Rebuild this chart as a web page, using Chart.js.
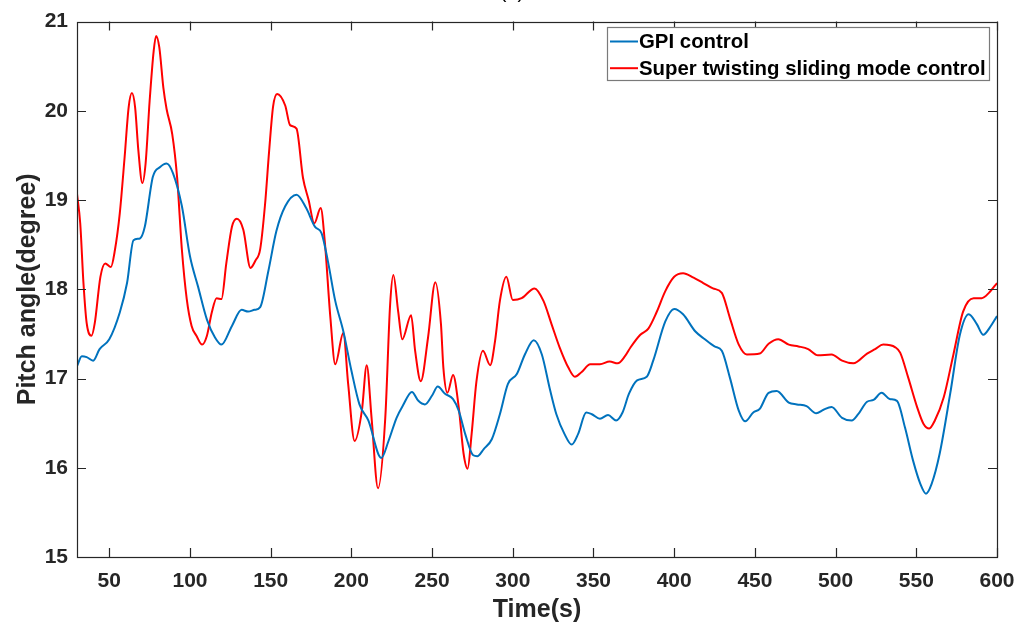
<!DOCTYPE html>
<html>
<head>
<meta charset="utf-8">
<script src="https://cdn.jsdelivr.net/npm/chart.js@4/dist/chart.umd.min.js"></script>
<style>
  html, body { margin: 0; padding: 0; background: #ffffff; }
  #wrap { width: 1030px; height: 630px; }
</style>
</head>
<body>
<div id="wrap"><canvas id="c" width="1030" height="630"></canvas></div>
<script>
// ---- data ----
const gpiTime = [30,33,36,40,44,50,56.5,61,65,69,72,77,81.5,85.5,89.5,95,100,105,110.5,115.5,119.5,126,132,136,140,143.5,148.5,153.5,159,166,172,177.5,181.5,185.5,190,195,200,205,210.5,218.5,223,228,232,237.5,241.5,245.5,250,253.5,258,263,266.5,270.5,275.5,278,282,287,292,297,302.5,307.5,313,318,323,327,332,336.5,340.5,345.5,349,354,359,364,368,372,377,383,387,394.5,400,405.5,413,419,425,429.5,434.5,440,444,449,453,458.5,463.5,471,476,482,488,492.5,497.5,504,510,514,519.5,523.5,528.5,533.5,538,543,548,552.5,556,559.5,564.5,571,577,582.5,587.5,591.5,595.5,600];
const gpiPitch = [17.14,17.25,17.24,17.20,17.33,17.44,17.74,18.07,18.55,18.57,18.70,19.26,19.37,19.41,19.30,18.93,18.37,18.03,17.66,17.46,17.38,17.59,17.77,17.75,17.77,17.80,18.20,18.65,18.93,19.06,18.91,18.70,18.63,18.31,17.87,17.53,17.09,16.71,16.53,16.11,16.30,16.56,16.70,16.85,16.75,16.71,16.81,16.91,16.83,16.77,16.64,16.38,16.14,16.13,16.21,16.32,16.60,16.94,17.05,17.27,17.43,17.27,16.88,16.60,16.38,16.26,16.38,16.62,16.60,16.55,16.59,16.53,16.62,16.83,16.98,17.02,17.20,17.64,17.78,17.72,17.53,17.44,17.36,17.31,17.01,16.64,16.52,16.62,16.66,16.84,16.86,16.73,16.71,16.69,16.61,16.65,16.68,16.56,16.53,16.60,16.74,16.76,16.84,16.77,16.75,16.45,16.08,15.82,15.71,15.82,16.16,16.83,17.49,17.72,17.61,17.49,17.57,17.70];

const stsmcTime = [30,32,34,36,39,41,44.5,47.5,51,53.5,56.5,59.5,62,64,66,68,70.5,72.5,75,77.5,79,81,83.5,85.5,89,92,95,98,101,104,107.5,110.5,113.5,116.5,119.5,122.5,126,129,133,137.5,140.5,143.5,146.5,149,151.5,154,159,162,166,170,173.5,177,181,183.5,187,190,195,198,202,206.5,209.5,212.5,216.5,221,224,226,229,231.5,237,239.5,243,247.5,252,255.5,257,259.5,263,266.5,269.5,272,274.5,277.5,281.5,286,289,292,296,300,305.5,313.5,319,324,329,334.5,338.5,342.5,348,354,360,365,369.5,373,379,384,389,394.5,400,405.5,412,418,424,429.5,434.5,440,445,453,458.5,464.5,471,477,483,489,497.5,504,511,519.5,524.5,529.5,537,540,545,550.5,554.5,558,561.5,567,573,579,585.5,590.5,595,600];
const stsmcPitch = [19.07,18.74,18.07,17.62,17.48,17.62,18.14,18.29,18.25,18.44,18.85,19.48,20.04,20.20,20.04,19.56,19.19,19.41,20.11,20.67,20.84,20.71,20.26,20.02,19.74,19.26,18.44,17.89,17.59,17.48,17.38,17.48,17.74,17.90,17.89,18.29,18.70,18.79,18.67,18.24,18.32,18.45,18.95,19.54,20.05,20.19,20.06,19.84,19.80,19.25,19.00,18.74,18.91,18.54,17.68,17.16,17.51,16.94,16.30,16.64,17.15,16.56,15.77,16.56,17.83,18.16,17.75,17.44,17.71,17.31,16.97,17.46,18.08,17.61,17.12,16.84,17.04,16.68,16.16,15.99,16.38,16.97,17.31,17.15,17.42,17.87,18.14,17.88,17.90,18.01,17.87,17.61,17.35,17.12,17.02,17.07,17.16,17.16,17.19,17.17,17.25,17.35,17.49,17.56,17.74,17.98,18.14,18.18,18.13,18.07,18.01,17.96,17.68,17.38,17.27,17.28,17.39,17.44,17.38,17.36,17.33,17.26,17.27,17.20,17.17,17.28,17.33,17.38,17.35,17.29,17.01,16.68,16.49,16.44,16.53,16.79,17.27,17.75,17.90,17.90,17.96,18.07];

const xTickValues = [50,100,150,200,250,300,350,400,450,500,550,600];
const yTickValues = [15,16,17,18,19,20,21];
const seriesLabels = ['GPI control', 'Super twisting sliding mode control'];
const chartTitle = '(a)';
const xAxisTitle = 'Time(s)';
const yAxisTitle = 'Pitch angle(degree)';

// ---- chart ----
const FONT = '"Liberation Sans", Arial, Helvetica, sans-serif';
const AXIS_COLOR = '#262626';

function toXY(xs, ys) { return xs.map((x, i) => ({ x: x, y: ys[i] })); }

const framePlugin = {
  id: 'frameTicksLegend',
  afterDraw(chart) {
    const { ctx, chartArea: a, scales } = chart;
    const xs = scales.x, ys = scales.y;
    ctx.save();
    // frame
    ctx.strokeStyle = AXIS_COLOR;
    ctx.lineWidth = 1.2;
    ctx.strokeRect(Math.round(a.left) + 0.5, Math.round(a.top) + 0.5,
                   Math.round(a.right - a.left), Math.round(a.bottom - a.top));
    // inward ticks
    const tl = 9;
    ctx.beginPath();
    xTickValues.forEach(v => {
      const px = Math.round(xs.getPixelForValue(v)) + 0.5;
      ctx.moveTo(px, a.bottom); ctx.lineTo(px, a.bottom - tl);
      ctx.moveTo(px, a.top); ctx.lineTo(px, a.top + tl);
    });
    yTickValues.forEach(v => {
      const py = Math.round(ys.getPixelForValue(v)) + 0.5;
      ctx.moveTo(a.left, py); ctx.lineTo(a.left + tl, py);
      ctx.moveTo(a.right, py); ctx.lineTo(a.right - tl, py);
    });
    ctx.stroke();

    // legend box (inside top-right)
    const bx = 607, by = 27.5, bw = 382, bh = 53;
    ctx.fillStyle = '#ffffff';
    ctx.fillRect(bx, by, bw, bh);
    ctx.strokeStyle = '#7a7a7a';
    ctx.lineWidth = 1.2;
    ctx.strokeRect(bx + 0.5, by, bw, bh);
    ctx.font = 'bold 20.4px ' + FONT;
    ctx.textBaseline = 'middle';
    ctx.textAlign = 'left';
    chart.data.datasets.forEach((ds, i) => {
      const cy = 41.5 + i * 26.7;
      ctx.strokeStyle = ds.borderColor;
      ctx.lineWidth = 2;
      ctx.beginPath();
      ctx.moveTo(610, cy); ctx.lineTo(638, cy);
      ctx.stroke();
      ctx.fillStyle = '#000000';
      ctx.fillText(ds.label, 639, cy + 1);
    });

    // title (mostly cut off at the top edge in the reference)
    ctx.font = '20px ' + FONT;
    ctx.fillStyle = '#000000';
    ctx.textAlign = 'center';
    ctx.textBaseline = 'alphabetic';
    ctx.fillText(chartTitle, 512, -2);
    ctx.restore();
  }
};

new Chart(document.getElementById('c'), {
  type: 'line',
  data: {
    datasets: [
      {
        label: seriesLabels[0],
        data: toXY(gpiTime, gpiPitch),
        borderColor: '#0072BD',
        borderWidth: 2,
        pointRadius: 0,
        cubicInterpolationMode: 'monotone',
        fill: false
      },
      {
        label: seriesLabels[1],
        data: toXY(stsmcTime, stsmcPitch),
        borderColor: '#FF0000',
        borderWidth: 2,
        pointRadius: 0,
        cubicInterpolationMode: 'monotone',
        fill: false
      }
    ]
  },
  options: {
    responsive: false,
    animation: false,
    devicePixelRatio: 1,
    layout: { padding: { left: 0, top: 19, right: 33, bottom: 0 } },
    plugins: {
      legend: { display: false },
      tooltip: { enabled: false },
      title: { display: false }
    },
    scales: {
      x: {
        type: 'linear',
        min: 30,
        max: 600,
        afterBuildTicks: s => { s.ticks = xTickValues.map(v => ({ value: v })); },
        afterFit: s => { s.height = 73; },
        grid: { display: false, drawTicks: false },
        border: { display: false },
        ticks: {
          autoSkip: false,
          maxRotation: 0,
          padding: 12,
          color: AXIS_COLOR,
          font: { family: FONT, size: 21, weight: 'bold' }
        },
        title: {
          display: true,
          text: xAxisTitle,
          color: AXIS_COLOR,
          font: { family: FONT, size: 25, weight: 'bold' },
          padding: { top: 0, bottom: 5 }
        }
      },
      y: {
        type: 'linear',
        min: 15,
        max: 21,
        afterBuildTicks: s => { s.ticks = yTickValues.map(v => ({ value: v })); },
        afterFit: s => { s.width = 77; },
        grid: { display: false, drawTicks: false },
        border: { display: false },
        ticks: {
          autoSkip: false,
          padding: 9,
          color: AXIS_COLOR,
          font: { family: FONT, size: 21, weight: 'bold' }
        },
        title: {
          display: true,
          text: yAxisTitle,
          color: AXIS_COLOR,
          font: { family: FONT, size: 25, weight: 'bold' },
          padding: { top: 13, bottom: 0 }
        }
      }
    }
  },
  plugins: [framePlugin]
});
</script>
</body>
</html>
